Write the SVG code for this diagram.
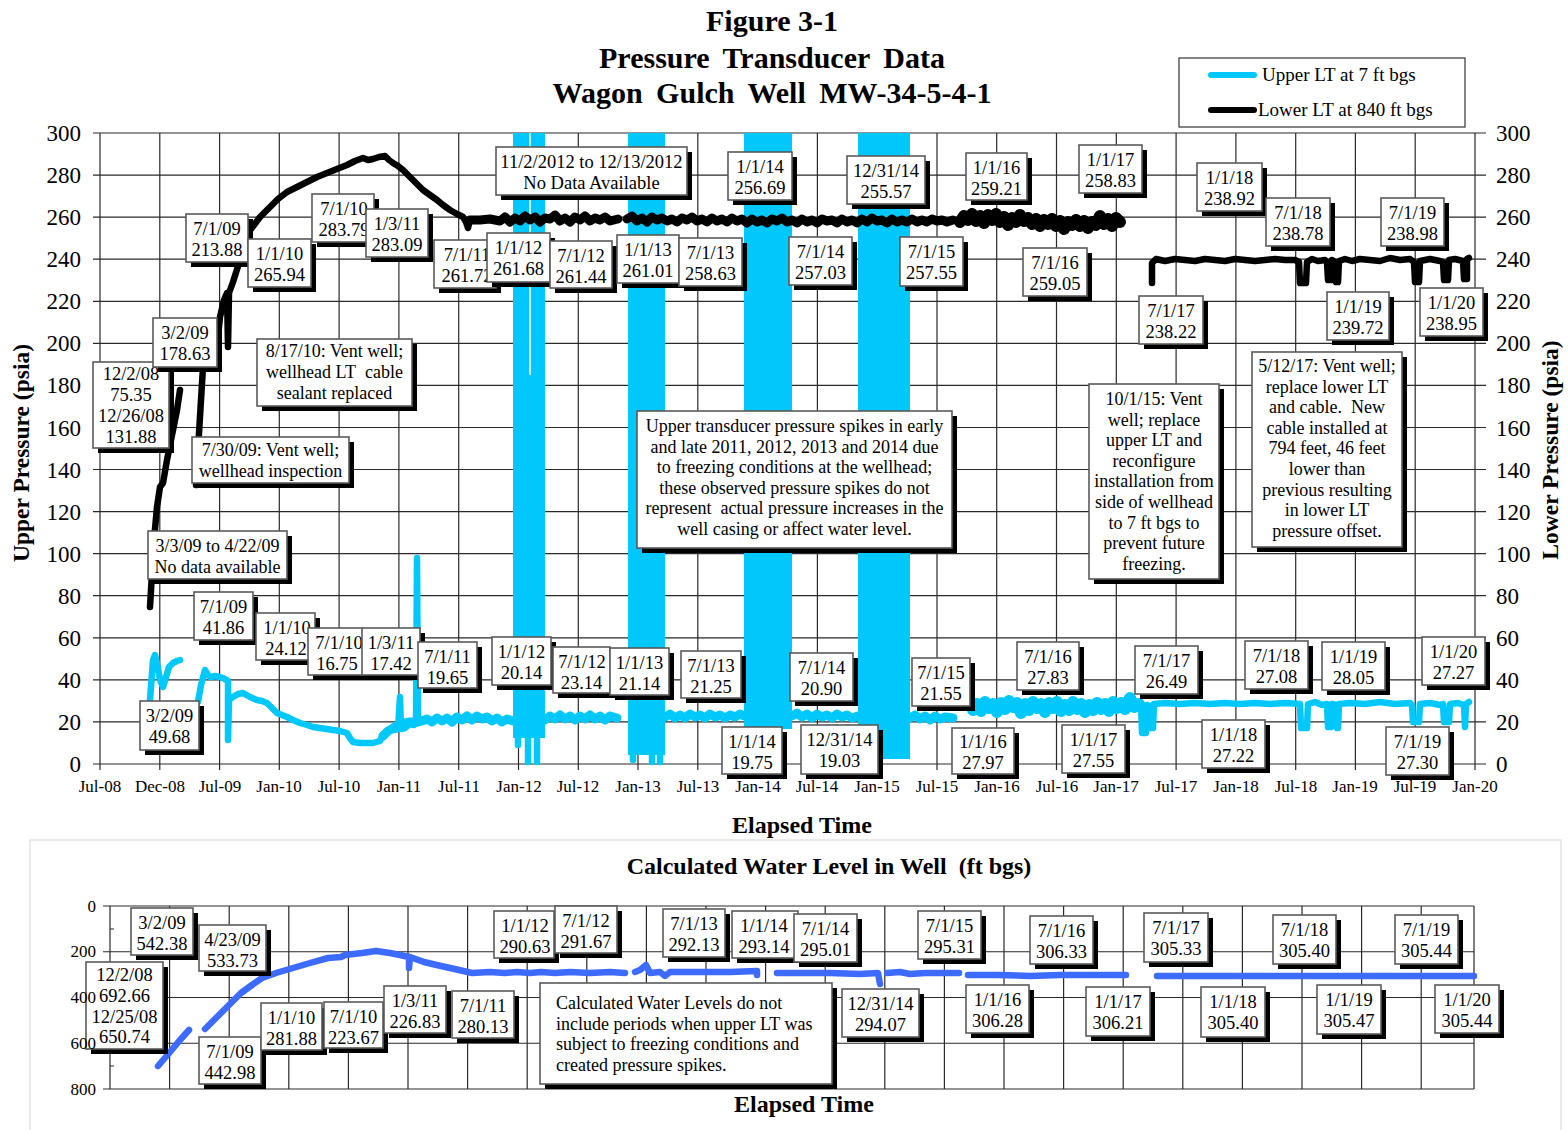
<svg xmlns="http://www.w3.org/2000/svg" width="1568" height="1130" viewBox="0 0 1568 1130">
<style>
text{font-family:"Liberation Serif","Times New Roman",serif;fill:#000}
.ti{font-size:30px;font-weight:bold;text-anchor:middle}
.ax{font-size:23.5px;font-weight:bold;text-anchor:middle}
.ax2{font-size:24px;font-weight:bold;text-anchor:middle}
.yl{font-size:23px;text-anchor:end}
.yr{font-size:23px;text-anchor:start}
.xl{font-size:17px;text-anchor:middle}
.yb{font-size:17px;text-anchor:end}
.l{font-size:18.5px;text-anchor:middle}
.n{font-size:18px;text-anchor:middle}
.nl{font-size:18px;text-anchor:start}
.lg{font-size:19px}
.s{fill:#000}
.b{fill:#fff;stroke:#5a5a5a;stroke-width:1.6}
.grid{fill:none;stroke:#2a2a2a;stroke-width:1.2}
.blk{fill:none;stroke:#000;stroke-width:6.5;stroke-linejoin:round;stroke-linecap:round}
.blk2{fill:none;stroke:#000;stroke-width:9;stroke-linejoin:round;stroke-linecap:round}
.blk3{fill:none;stroke:#000;stroke-width:12;stroke-linejoin:round;stroke-linecap:round}
.cy{fill:none;stroke:#00c8fa;stroke-width:6.5;stroke-linejoin:round;stroke-linecap:round}
.cy2{fill:none;stroke:#00c8fa;stroke-width:9;stroke-linejoin:round;stroke-linecap:round}
.cy3{fill:none;stroke:#00c8fa;stroke-width:12;stroke-linejoin:round;stroke-linecap:round}
.band{fill:#00c8fa}
.bl{fill:none;stroke:#3d6bff;stroke-width:6.5;stroke-linejoin:round;stroke-linecap:round}
</style>

<g id="title">
<text class="ti" x="772" y="31">Figure 3-1</text>
<text class="ti" x="772" y="68" word-spacing="6">Pressure Transducer Data</text>
<text class="ti" x="772" y="103" word-spacing="6">Wagon Gulch Well MW-34-5-4-1</text>
</g>

<g id="legend">
<rect x="1179" y="58" width="286" height="69" fill="#fff" stroke="#333" stroke-width="1.2"/>
<path d="M1211,75 H1254" stroke="#00c8fa" stroke-width="6" stroke-linecap="round"/>
<text class="lg" x="1262" y="81">Upper LT at 7 ft bgs</text>
<path d="M1211,110 H1254" stroke="#000" stroke-width="6" stroke-linecap="round"/>
<text class="lg" x="1258" y="116">Lower LT at 840 ft bgs</text>
</g>

<g id="top-grid">
<path class="grid" d="M93,764H1486M93,721.9H1486M93,679.9H1486M93,637.8H1486M93,595.7H1486M93,553.7H1486M93,511.6H1486M93,469.5H1486M93,427.5H1486M93,385.4H1486M93,343.3H1486M93,301.3H1486M93,259.2H1486M93,217.1H1486M93,175.1H1486M93,133H1486
M100,133V770M159.8,133V770M219.6,133V770M279.3,133V770M339.1,133V770M398.9,133V770M458.7,133V770M518.5,133V770M578.3,133V770M638,133V770M697.8,133V770M757.6,133V770M817.4,133V770M877.2,133V770M937,133V770M996.7,133V770M1056.5,133V770M1116.3,133V770M1176.1,133V770M1235.9,133V770M1295.7,133V770M1355.4,133V770M1415.2,133V770M1475,133V770"/>
</g>

<g id="top-axes">
<text class="yl" x="81" y="772">0</text><text class="yl" x="81" y="730">20</text><text class="yl" x="81" y="688">40</text><text class="yl" x="81" y="646">60</text><text class="yl" x="81" y="604">80</text><text class="yl" x="81" y="562">100</text><text class="yl" x="81" y="520">120</text><text class="yl" x="81" y="478">140</text><text class="yl" x="81" y="436">160</text><text class="yl" x="81" y="393">180</text><text class="yl" x="81" y="351">200</text><text class="yl" x="81" y="309">220</text><text class="yl" x="81" y="267">240</text><text class="yl" x="81" y="225">260</text><text class="yl" x="81" y="183">280</text><text class="yl" x="81" y="141">300</text>
<text class="yr" x="1496" y="772">0</text><text class="yr" x="1496" y="730">20</text><text class="yr" x="1496" y="688">40</text><text class="yr" x="1496" y="646">60</text><text class="yr" x="1496" y="604">80</text><text class="yr" x="1496" y="562">100</text><text class="yr" x="1496" y="520">120</text><text class="yr" x="1496" y="478">140</text><text class="yr" x="1496" y="436">160</text><text class="yr" x="1496" y="393">180</text><text class="yr" x="1496" y="351">200</text><text class="yr" x="1496" y="309">220</text><text class="yr" x="1496" y="267">240</text><text class="yr" x="1496" y="225">260</text><text class="yr" x="1496" y="183">280</text><text class="yr" x="1496" y="141">300</text>
<text class="xl" x="100" y="792">Jul-08</text><text class="xl" x="160" y="792">Dec-08</text><text class="xl" x="220" y="792">Jul-09</text><text class="xl" x="279" y="792">Jan-10</text><text class="xl" x="339" y="792">Jul-10</text><text class="xl" x="399" y="792">Jan-11</text><text class="xl" x="459" y="792">Jul-11</text><text class="xl" x="519" y="792">Jan-12</text><text class="xl" x="578" y="792">Jul-12</text><text class="xl" x="638" y="792">Jan-13</text><text class="xl" x="698" y="792">Jul-13</text><text class="xl" x="758" y="792">Jan-14</text><text class="xl" x="817" y="792">Jul-14</text><text class="xl" x="877" y="792">Jan-15</text><text class="xl" x="937" y="792">Jul-15</text><text class="xl" x="997" y="792">Jan-16</text><text class="xl" x="1057" y="792">Jul-16</text><text class="xl" x="1116" y="792">Jan-17</text><text class="xl" x="1176" y="792">Jul-17</text><text class="xl" x="1236" y="792">Jan-18</text><text class="xl" x="1296" y="792">Jul-18</text><text class="xl" x="1355" y="792">Jan-19</text><text class="xl" x="1415" y="792">Jul-19</text><text class="xl" x="1475" y="792">Jan-20</text>
<text class="ax" transform="translate(29,453) rotate(-90)">Upper Pressure (psia)</text>
<text class="ax" transform="translate(1558,450) rotate(-90)">Lower Pressure (psia)</text>
<text class="ax2" x="802" y="833">Elapsed Time</text>
</g>

<g id="freeze-bands">
<rect class="band" x="513" y="133" width="32" height="605"/>
<path class="cy" d="M528,735V762M537,735V762M518,730V745"/>
<path d="M530,133V375" stroke="#fff" stroke-width="1.5"/>
<rect class="band" x="628" y="133" width="37" height="622"/>
<path class="cy" d="M633,750V760M652,750V762M660,750V762"/>
<rect class="band" x="744" y="133" width="48" height="596"/>
<rect class="band" x="858" y="133" width="52" height="626"/>
<path class="cy" d="M862,755V762M904,720V755"/>
</g>

<g id="series">
<path class="blk" d="M150,607 L152,573 L154,540 L157,507 L160,487 L163,483 L167,460 L170,445 L174,425 L177,410 L180,390"/>
<path class="blk" d="M196,485 L198,450 L201,400 L203,367 L208,355 L213,350 L217,347 L220,317 L224,300 L227,293 L228,347 L229,293 L233,282 L240,260 L248,233 L254,225 L260,217 L265,212 L270,207 L278,199 L287,192 L297,187 L307,182 L317,177 L327,173 L337,169 L347,165 L355,161 L363,158 L368,160 L373,159 L379,157 L385,156 L389,160 L393,163 L398,166 L403,170 L408,175 L413,180 L418,185 L423,190 L430,195 L437,200 L443,205 L450,210 L457,214 L463,217 L466,222 L468,228 L470,220"/>
<path class="blk2" d="M470,220 L480,220 L490,219 L500,221 L505,217 L510,222 L515,218 L520,221 L525,216 L530,220 L535,217 L540,222 L545,218 L550,219 L555,215 L560,221 L565,218 L570,222 L575,217 L580,220 L585,216 L590,221 L595,218 L600,220 L605,217 L610,221 L618,219"/>
<path class="blk2" d="M627,219 L632,216 L637,221 L642,218 L647,222 L652,217 L657,220 L662,218 L667,221 L672,219 L677,222 L682,218 L687,220 L692,217 L697,221 L702,219 L707,222 L712,218 L717,221 L722,219 L727,222 L732,218 L737,221 L742,219 L747,223 L752,219 L757,222 L762,220 L767,223 L772,219 L777,221 L782,218 L787,222 L792,220 L797,223 L802,219 L807,222 L812,220 L817,223 L822,219 L827,221 L832,220 L837,223 L842,219 L847,222 L852,220 L857,223 L862,219 L867,222 L872,218 L877,221 L882,220 L887,223 L892,219 L897,222 L902,220 L907,222 L912,219 L917,222 L922,220 L927,222 L932,219 L937,221 L942,220 L947,222 L953,220"/>
<path class="blk3" d="M960,222 L964,216 L968,220 L972,214 L976,221 L980,216 L984,223 L988,215 L992,220 L996,214 L1000,222 L1004,217 L1008,225 L1012,218 L1016,222 L1020,215 L1024,221 L1028,218 L1032,224 L1036,219 L1040,226 L1044,220 L1048,224 L1052,219 L1056,226 L1060,221 L1064,229 L1068,222 L1072,225 L1076,220 L1080,226 L1084,221 L1088,228 L1092,222 L1096,225 L1100,216 L1104,224 L1108,219 L1112,226 L1116,218 L1120,222"/>
<path class="blk" d="M1152,283 L1152,263 L1156,259 L1165,261 L1175,259 L1185,260 L1195,261 L1205,259 L1215,260 L1225,261 L1235,259 L1245,260 L1255,261 L1265,260 L1275,259 L1285,260 L1295,260 L1299,262 L1300,283 L1306,283 L1307,262 L1312,259 L1318,261 L1325,260 L1327,262 L1328,280 L1331,280 L1332,260 L1335,262 L1336,282 L1338,282 L1339,261 L1345,259 L1352,261 L1360,259 L1370,260 L1380,261 L1390,258 L1400,260 L1410,259 L1414,262 L1415,282 L1419,282 L1420,261 L1430,259 L1440,261 L1443,262 L1444,280 L1448,280 L1449,260 L1455,259 L1463,261 L1464,279 L1467,279 L1467,259 L1469,258"/>

<path class="cy" d="M150,700 L153,660 L155,655 L158,668 L160,680 L163,687 L166,677 L169,667 L173,663 L177,661 L180,660"/>
<path class="cy" d="M198,702 L201,685 L205,670 L208,675 L210,677 L215,676 L220,677 L225,679 L228,681 L228,740 L229,700 L233,697 L238,694 L243,693 L250,697 L257,700 L262,701 L267,703 L272,708 L277,713 L282,715 L287,717 L293,720 L300,723 L307,725 L313,727 L320,728 L327,729 L333,730 L340,731 L347,733 L350,738 L353,742 L360,743 L367,743 L373,743 L380,741 L383,734 L388,731 L393,730 L398,729 L400,697 L401,729 L405,728 L410,724 L414,725 L416,723 L417,558 L418,723"/>
<path class="cy2" d="M383,736 L388,731 L393,728 L400,724 L410,722 L418,722 L422,721 L427,719 L432,722 L437,718 L442,721 L447,718 L452,722 L457,717 L462,720 L467,716 L472,720 L477,716 L482,719 L487,717 L492,721 L497,718 L502,722 L507,719 L513,721"/>
<path class="cy2" d="M545,720 L550,716 L555,719 L560,715 L565,719 L570,716 L575,720 L580,716 L585,719 L590,715 L595,719 L600,716 L605,720 L610,716 L617,718"/>
<path class="cy2" d="M665,717 L670,714 L675,718 L680,715 L685,718 L690,714 L695,717 L700,715 L705,718 L710,714 L715,717 L720,715 L725,718 L730,715 L735,717 L740,714 L744,716"/>
<path class="cy2" d="M792,716 L797,713 L802,717 L807,714 L812,718 L817,714 L822,717 L827,715 L832,718 L837,714 L842,717 L847,715 L852,718 L858,716"/>
<path class="cy2" d="M910,718 L915,715 L920,719 L925,716 L930,720 L935,716 L940,719 L945,717 L953,718"/>
<path class="cy3" d="M973,710 L977,704 L981,711 L985,702 L989,708 L993,704 L997,712 L1001,703 L1005,709 L1009,701 L1013,707 L1017,703 L1021,713 L1025,704 L1029,710 L1033,702 L1037,708 L1041,704 L1045,712 L1049,703 L1053,708 L1057,702 L1061,711 L1065,705 L1069,710 L1073,702 L1077,709 L1081,704 L1085,712 L1089,705 L1093,710 L1097,703 L1101,709 L1105,704 L1109,711 L1113,702 L1117,708 L1121,703 L1125,709 L1130,698 L1134,707 L1139,704"/>
<path class="cy" d="M1141,704 L1142,733 L1146,733 L1147,705 L1150,706 L1151,728 L1153,728 L1154,704 L1165,703 L1180,704 L1195,703 L1210,704 L1225,703 L1240,704 L1255,703 L1270,704 L1285,703 L1300,704 L1301,728 L1307,728 L1308,704 L1315,702 L1322,705 L1327,704 L1328,727 L1331,727 L1332,704 L1336,705 L1337,728 L1338,728 L1339,704 L1350,703 L1365,704 L1380,702 L1395,704 L1410,703 L1412,705 L1413,722 L1419,722 L1420,704 L1430,703 L1440,705 L1443,704 L1444,722 L1449,722 L1450,704 L1458,703 L1464,705 L1465,727 L1466,704 L1469,702"/>
</g>

<g id="top-labels">
<g id="lb-1"><rect class="s" x="98" y="367" width="76" height="86"/><rect class="b" x="93" y="362" width="76" height="86"/><text class="l"><tspan x="131" y="380">12/2/08</tspan><tspan x="131" y="401">75.35</tspan><tspan x="131" y="422">12/26/08</tspan><tspan x="131" y="443">131.88</tspan></text></g>
<g id="lb-2"><rect class="s" x="158" y="323" width="64" height="49"/><rect class="b" x="153" y="318" width="64" height="49"/><text class="l"><tspan x="185" y="339">3/2/09</tspan><tspan x="185" y="360">178.63</tspan></text></g>
<g id="lb-3"><rect class="s" x="191" y="219" width="62" height="48"/><rect class="b" x="186" y="214" width="62" height="48"/><text class="l"><tspan x="217" y="235">7/1/09</tspan><tspan x="217" y="255.5">213.88</tspan></text></g>
<g id="lb-4"><rect class="s" x="253" y="244" width="63" height="48"/><rect class="b" x="248" y="239" width="63" height="48"/><text class="l"><tspan x="279.5" y="260">1/1/10</tspan><tspan x="279.5" y="280.5">265.94</tspan></text></g>
<g id="lb-5"><rect class="s" x="317" y="199" width="62" height="48"/><rect class="b" x="312" y="194" width="62" height="48"/><text class="l"><tspan x="344" y="215">7/1/10</tspan><tspan x="344" y="235.5">283.79</tspan></text></g>
<g id="lb-6"><rect class="s" x="371" y="214" width="62" height="48"/><rect class="b" x="366" y="209" width="62" height="48"/><text class="l"><tspan x="397" y="230">1/3/11</tspan><tspan x="397" y="250.5">283.09</tspan></text></g>
<g id="lb-7"><rect class="s" x="439" y="245" width="62" height="48"/><rect class="b" x="434" y="240" width="62" height="48"/><text class="l"><tspan x="467" y="261">7/1/11</tspan><tspan x="467" y="281.5">261.72</tspan></text></g>
<g id="lb-8"><rect class="s" x="492" y="238" width="63" height="49"/><rect class="b" x="487" y="233" width="63" height="49"/><text class="l"><tspan x="518.5" y="254">1/1/12</tspan><tspan x="518.5" y="274.5">261.68</tspan></text></g>
<g id="lb-9"><rect class="s" x="555" y="246" width="62" height="47"/><rect class="b" x="550" y="241" width="62" height="47"/><text class="l"><tspan x="581" y="262">7/1/12</tspan><tspan x="581" y="282.5">261.44</tspan></text></g>
<g id="lb-10"><rect class="s" x="622" y="240" width="62" height="48"/><rect class="b" x="617" y="235" width="62" height="48"/><text class="l"><tspan x="648" y="256">1/1/13</tspan><tspan x="648" y="276.5">261.01</tspan></text></g>
<g id="lb-11"><rect class="s" x="684" y="243" width="63" height="48"/><rect class="b" x="679" y="238" width="63" height="48"/><text class="l"><tspan x="710.5" y="259">7/1/13</tspan><tspan x="710.5" y="279.5">258.63</tspan></text></g>
<g id="lb-12"><rect class="s" x="794" y="242" width="63" height="48"/><rect class="b" x="789" y="237" width="63" height="48"/><text class="l"><tspan x="820.5" y="258">7/1/14</tspan><tspan x="820.5" y="278.5">257.03</tspan></text></g>
<g id="lb-13"><rect class="s" x="905" y="242" width="63" height="49"/><rect class="b" x="900" y="237" width="63" height="49"/><text class="l"><tspan x="931.5" y="258">7/1/15</tspan><tspan x="931.5" y="278.5">257.55</tspan></text></g>
<g id="lb-14"><rect class="s" x="501" y="152" width="191" height="48"/><rect class="b" x="496" y="147" width="191" height="48"/><text class="l"><tspan x="591.5" y="168">11/2/2012 to 12/13/2012</tspan><tspan x="591.5" y="188.5">No Data Available</tspan></text></g>
<g id="lb-15"><rect class="s" x="733" y="157" width="64" height="48"/><rect class="b" x="728" y="152" width="64" height="48"/><text class="l"><tspan x="760" y="173">1/1/14</tspan><tspan x="760" y="193.5">256.69</tspan></text></g>
<g id="lb-16"><rect class="s" x="852" y="161" width="78" height="48"/><rect class="b" x="847" y="156" width="78" height="48"/><text class="l"><tspan x="886" y="177">12/31/14</tspan><tspan x="886" y="197.5">255.57</tspan></text></g>
<g id="lb-17"><rect class="s" x="971" y="158" width="61" height="47"/><rect class="b" x="966" y="153" width="61" height="47"/><text class="l"><tspan x="996.5" y="174">1/1/16</tspan><tspan x="996.5" y="194.5">259.21</tspan></text></g>
<g id="lb-18"><rect class="s" x="1084" y="150" width="63" height="48"/><rect class="b" x="1079" y="145" width="63" height="48"/><text class="l"><tspan x="1110.5" y="166">1/1/17</tspan><tspan x="1110.5" y="186.5">258.83</tspan></text></g>
<g id="lb-19"><rect class="s" x="1028" y="253" width="64" height="48"/><rect class="b" x="1023" y="248" width="64" height="48"/><text class="l"><tspan x="1055" y="269">7/1/16</tspan><tspan x="1055" y="289.5">259.05</tspan></text></g>
<g id="lb-20"><rect class="s" x="1202" y="168" width="65" height="48"/><rect class="b" x="1197" y="163" width="65" height="48"/><text class="l"><tspan x="1229.5" y="184">1/1/18</tspan><tspan x="1229.5" y="204.5">238.92</tspan></text></g>
<g id="lb-21"><rect class="s" x="1271" y="203" width="64" height="48"/><rect class="b" x="1266" y="198" width="64" height="48"/><text class="l"><tspan x="1298" y="219">7/1/18</tspan><tspan x="1298" y="239.5">238.78</tspan></text></g>
<g id="lb-22"><rect class="s" x="1386" y="203" width="63" height="48"/><rect class="b" x="1381" y="198" width="63" height="48"/><text class="l"><tspan x="1412.5" y="219">7/1/19</tspan><tspan x="1412.5" y="239.5">238.98</tspan></text></g>
<g id="lb-23"><rect class="s" x="1144" y="301" width="64" height="48"/><rect class="b" x="1139" y="296" width="64" height="48"/><text class="l"><tspan x="1171" y="317">7/1/17</tspan><tspan x="1171" y="337.5">238.22</tspan></text></g>
<g id="lb-24"><rect class="s" x="1332" y="297" width="62" height="48"/><rect class="b" x="1327" y="292" width="62" height="48"/><text class="l"><tspan x="1358" y="313">1/1/19</tspan><tspan x="1358" y="333.5">239.72</tspan></text></g>
<g id="lb-25"><rect class="s" x="1425" y="293" width="63" height="48"/><rect class="b" x="1420" y="288" width="63" height="48"/><text class="l"><tspan x="1451.5" y="309">1/1/20</tspan><tspan x="1451.5" y="329.5">238.95</tspan></text></g>
<g id="note-81710"><rect class="s" x="262" y="344" width="155" height="67"/><rect class="b" x="257" y="339" width="155" height="67"/><text class="n"><tspan x="334.5" y="357">8/17/10: Vent well;</tspan><tspan x="334.5" y="378">wellhead LT&#160; cable</tspan><tspan x="334.5" y="399">sealant replaced</tspan></text></g>
<g id="note-73009"><rect class="s" x="197" y="442" width="157" height="46"/><rect class="b" x="192" y="437" width="157" height="46"/><text class="n"><tspan x="270.5" y="456">7/30/09: Vent well;</tspan><tspan x="270.5" y="477">wellhead inspection</tspan></text></g>
<g id="note-nodata09"><rect class="s" x="153" y="536" width="139" height="48"/><rect class="b" x="148" y="531" width="139" height="48"/><text class="n"><tspan x="217.5" y="552">3/3/09 to 4/22/09</tspan><tspan x="217.5" y="572.5">No data available</tspan></text></g>
<g id="note-spikes"><rect class="s" x="642" y="416" width="315" height="137"/><rect class="b" x="637" y="411" width="315" height="137"/><text class="n"><tspan x="794.5" y="432">Upper transducer pressure spikes in early</tspan><tspan x="794.5" y="452.5">and late 2011, 2012, 2013 and 2014 due</tspan><tspan x="794.5" y="473">to freezing conditions at the wellhead;</tspan><tspan x="794.5" y="493.5">these observed pressure spikes do not</tspan><tspan x="794.5" y="514">represent&#160; actual pressure increases in the</tspan><tspan x="794.5" y="534.5">well casing or affect water level.</tspan></text></g>
<g id="note-10115"><rect class="s" x="1094" y="389" width="130" height="195"/><rect class="b" x="1089" y="384" width="130" height="195"/><text class="n"><tspan x="1154" y="405">10/1/15: Vent</tspan><tspan x="1154" y="425.6">well; replace</tspan><tspan x="1154" y="446.2">upper LT and</tspan><tspan x="1154" y="466.8">reconfigure</tspan><tspan x="1154" y="487.4">installation from</tspan><tspan x="1154" y="508">side of wellhead</tspan><tspan x="1154" y="528.6">to 7 ft bgs to</tspan><tspan x="1154" y="549.2">prevent future</tspan><tspan x="1154" y="569.8">freezing.</tspan></text></g>
<g id="note-51217"><rect class="s" x="1257" y="357" width="150" height="195"/><rect class="b" x="1252" y="352" width="150" height="195"/><text class="n"><tspan x="1327" y="372">5/12/17: Vent well;</tspan><tspan x="1327" y="392.6">replace lower LT</tspan><tspan x="1327" y="413.2">and cable.&#160; New</tspan><tspan x="1327" y="433.8">cable installed at</tspan><tspan x="1327" y="454.4">794 feet, 46 feet</tspan><tspan x="1327" y="475">lower than</tspan><tspan x="1327" y="495.6">previous resulting</tspan><tspan x="1327" y="516.2">in lower LT</tspan><tspan x="1327" y="536.8">pressure offset.</tspan></text></g>

<g id="lc-32"><rect class="s" x="199" y="597" width="59" height="48"/><rect class="b" x="194" y="592" width="59" height="48"/><text class="l"><tspan x="223.5" y="613">7/1/09</tspan><tspan x="223.5" y="633.5">41.86</tspan></text></g>
<g id="lc-33"><rect class="s" x="261" y="618" width="59" height="47"/><rect class="b" x="256" y="613" width="59" height="47"/><text class="l"><tspan x="287" y="634">1/1/10</tspan><tspan x="286" y="654.5">24.12</tspan></text></g>
<g id="lc-34"><rect class="s" x="313" y="633" width="55" height="47"/><rect class="b" x="308" y="628" width="55" height="47"/><text class="l"><tspan x="339" y="649">7/1/10</tspan><tspan x="337" y="669.5">16.75</tspan></text></g>
<g id="lc-35"><rect class="s" x="367" y="633" width="58" height="47"/><rect class="b" x="362" y="628" width="58" height="47"/><text class="l"><tspan x="391" y="649">1/3/11</tspan><tspan x="391" y="669.5">17.42</tspan></text></g>
<g id="lc-36"><rect class="s" x="423" y="647" width="59" height="46"/><rect class="b" x="418" y="642" width="59" height="46"/><text class="l"><tspan x="447.5" y="663">7/1/11</tspan><tspan x="447.5" y="683.5">19.65</tspan></text></g>
<g id="lc-37"><rect class="s" x="497" y="642" width="59" height="48"/><rect class="b" x="492" y="637" width="59" height="48"/><text class="l"><tspan x="521.5" y="658">1/1/12</tspan><tspan x="521.5" y="678.5">20.14</tspan></text></g>
<g id="lc-38"><rect class="s" x="558" y="652" width="57" height="46"/><rect class="b" x="553" y="647" width="57" height="46"/><text class="l"><tspan x="582" y="668">7/1/12</tspan><tspan x="581.5" y="688.5">23.14</tspan></text></g>
<g id="lc-39"><rect class="s" x="615" y="653" width="59" height="47"/><rect class="b" x="610" y="648" width="59" height="47"/><text class="l"><tspan x="639.5" y="669">1/1/13</tspan><tspan x="639.5" y="689.5">21.14</tspan></text></g>
<g id="lc-40"><rect class="s" x="686" y="656" width="60" height="47"/><rect class="b" x="681" y="651" width="60" height="47"/><text class="l"><tspan x="711" y="672">7/1/13</tspan><tspan x="711" y="692.5">21.25</tspan></text></g>
<g id="lc-41"><rect class="s" x="795" y="658" width="63" height="48"/><rect class="b" x="790" y="653" width="63" height="48"/><text class="l"><tspan x="821.5" y="674">7/1/14</tspan><tspan x="821.5" y="694.5">20.90</tspan></text></g>
<g id="lc-42"><rect class="s" x="917" y="663" width="58" height="48"/><rect class="b" x="912" y="658" width="58" height="48"/><text class="l"><tspan x="941" y="679">7/1/15</tspan><tspan x="941" y="699.5">21.55</tspan></text></g>
<g id="lc-43"><rect class="s" x="1022" y="647" width="62" height="48"/><rect class="b" x="1017" y="642" width="62" height="48"/><text class="l"><tspan x="1048" y="663">7/1/16</tspan><tspan x="1048" y="683.5">27.83</tspan></text></g>
<g id="lc-44"><rect class="s" x="1140" y="651" width="63" height="48"/><rect class="b" x="1135" y="646" width="63" height="48"/><text class="l"><tspan x="1166.5" y="667">7/1/17</tspan><tspan x="1166.5" y="687.5">26.49</tspan></text></g>
<g id="lc-45"><rect class="s" x="1250" y="646" width="63" height="48"/><rect class="b" x="1245" y="641" width="63" height="48"/><text class="l"><tspan x="1276.5" y="662">7/1/18</tspan><tspan x="1276.5" y="682.5">27.08</tspan></text></g>
<g id="lc-46"><rect class="s" x="1327" y="647" width="63" height="48"/><rect class="b" x="1322" y="642" width="63" height="48"/><text class="l"><tspan x="1353.5" y="663">1/1/19</tspan><tspan x="1353.5" y="683.5">28.05</tspan></text></g>
<g id="lc-47"><rect class="s" x="1427" y="642" width="63" height="48"/><rect class="b" x="1422" y="637" width="63" height="48"/><text class="l"><tspan x="1453.5" y="658">1/1/20</tspan><tspan x="1453.5" y="678.5">27.27</tspan></text></g>
<g id="lc-48"><rect class="s" x="145" y="706" width="59" height="49"/><rect class="b" x="140" y="701" width="59" height="49"/><text class="l"><tspan x="169.5" y="722">3/2/09</tspan><tspan x="169.5" y="743">49.68</tspan></text></g>
<g id="lc-49"><rect class="s" x="727" y="732" width="60" height="47"/><rect class="b" x="722" y="727" width="60" height="47"/><text class="l"><tspan x="752" y="748">1/1/14</tspan><tspan x="752" y="768.5">19.75</tspan></text></g>
<g id="lc-50"><rect class="s" x="806" y="730" width="77" height="49"/><rect class="b" x="801" y="725" width="77" height="49"/><text class="l"><tspan x="839.5" y="746">12/31/14</tspan><tspan x="839.5" y="766.5">19.03</tspan></text></g>
<g id="lc-51"><rect class="s" x="957" y="733" width="62" height="46"/><rect class="b" x="952" y="728" width="62" height="46"/><text class="l"><tspan x="983" y="748">1/1/16</tspan><tspan x="983" y="768.5">27.97</tspan></text></g>
<g id="lc-52"><rect class="s" x="1067" y="730" width="63" height="48"/><rect class="b" x="1062" y="725" width="63" height="48"/><text class="l"><tspan x="1093.5" y="746">1/1/17</tspan><tspan x="1093.5" y="766.5">27.55</tspan></text></g>
<g id="lc-53"><rect class="s" x="1207" y="725" width="63" height="48"/><rect class="b" x="1202" y="720" width="63" height="48"/><text class="l"><tspan x="1233.5" y="741">1/1/18</tspan><tspan x="1233.5" y="761.5">27.22</tspan></text></g>
<g id="lc-54"><rect class="s" x="1391" y="732" width="63" height="48"/><rect class="b" x="1386" y="727" width="63" height="48"/><text class="l"><tspan x="1417.5" y="748">7/1/19</tspan><tspan x="1417.5" y="768.5">27.30</tspan></text></g>
</g>

<g id="wl-chart">
<rect x="30" y="840" width="1531" height="300" fill="#fff" stroke="#dcdcdc" stroke-width="1.2"/>
<text class="ax2" x="829" y="874">Calculated Water Level in Well&#160; (ft bgs)</text>
<path class="grid" d="M103,906H1474M103,951.75H1474M103,997.5H1474M103,1043.25H1474M103,1089H1474
M110,906V1089M169.6,906V1089M229.2,906V1089M288.8,906V1089M348.4,906V1089M408,906V1089M467.6,906V1089M527.2,906V1089M586.8,906V1089M646.4,906V1089M706,906V1089M765.6,906V1089M825.2,906V1089M884.8,906V1089M944.4,906V1089M1004,906V1089M1063.6,906V1089M1123.2,906V1089M1182.8,906V1089M1242.4,906V1089M1302,906V1089M1361.6,906V1089M1421.2,906V1089M1474,906V1089
M110,929h4M110,974.6h4M110,1020.4h4M110,1066h4"/>
<text class="ax2" x="804" y="1112">Elapsed Time</text>
</g>

<g id="wl-series">
<path class="bl" d="M158,1066 L170,1052 L180,1040 L189,1030"/>
<path class="bl" d="M205,1029 L215,1019 L224,1010 L233,1001 L241,993 L252,985 L262,978 L276,973 L293,968 L310,963 L328,958 L341,957 L345,955 L362,953 L376,951 L390,953 L400,955 L409,957 L409,968 L410,957 L424,962 L441,966 L459,970 L472,973 L490,972 L505,973 L517,972 L530,973 L541,972 L555,973 L570,972 L590,973 L610,972 L625,973"/>
<path class="bl" d="M635,972 L640,970 L646,965 L650,973 L660,972 L665,976 L670,972 L700,972 L730,972 L757,971 L757,975"/>
<path class="bl" d="M777,973 L800,973 L830,973 L860,974 L878,973 L880,984"/>
<path class="bl" d="M887,973 L900,972 L910,974 L925,973 L959,973"/>
<path class="bl" d="M968,975 L1000,975 L1030,976 L1060,975 L1090,975 L1126,975"/>
<path class="bl" d="M1157,976 L1474,976"/>
</g>

<g id="wl-labels">
<g id="wb-1"><rect class="s" x="136" y="913" width="62" height="47"/><rect class="b" x="131" y="908" width="62" height="47"/><text class="l"><tspan x="162" y="929">3/2/09</tspan><tspan x="162" y="949.5">542.38</tspan></text></g>
<g id="wb-2"><rect class="s" x="204" y="930" width="67" height="46"/><rect class="b" x="199" y="925" width="67" height="46"/><text class="l"><tspan x="232.5" y="946">4/23/09</tspan><tspan x="232.5" y="966.5">533.73</tspan></text></g>
<g id="wb-3"><rect class="s" x="91" y="967" width="77" height="87"/><rect class="b" x="86" y="962" width="77" height="87"/><text class="l"><tspan x="124.5" y="981">12/2/08</tspan><tspan x="124.5" y="1002">692.66</tspan><tspan x="124.5" y="1023">12/25/08</tspan><tspan x="124.5" y="1043">650.74</tspan></text></g>
<g id="wb-4"><rect class="s" x="204" y="1042" width="62" height="47"/><rect class="b" x="199" y="1037" width="62" height="47"/><text class="l"><tspan x="230" y="1058">7/1/09</tspan><tspan x="230" y="1078.5">442.98</tspan></text></g>
<g id="wb-5"><rect class="s" x="266" y="1008" width="61" height="47"/><rect class="b" x="261" y="1003" width="61" height="47"/><text class="l"><tspan x="291.5" y="1024">1/1/10</tspan><tspan x="291.5" y="1044.5">281.88</tspan></text></g>
<g id="wb-6"><rect class="s" x="329" y="1007" width="59" height="46"/><rect class="b" x="324" y="1002" width="59" height="46"/><text class="l"><tspan x="353.5" y="1023">7/1/10</tspan><tspan x="353.5" y="1043.5">223.67</tspan></text></g>
<g id="wb-7"><rect class="s" x="389" y="991" width="62" height="47"/><rect class="b" x="384" y="986" width="62" height="47"/><text class="l"><tspan x="415" y="1007">1/3/11</tspan><tspan x="415" y="1027.5">226.83</tspan></text></g>
<g id="wb-8"><rect class="s" x="457" y="996" width="62" height="47"/><rect class="b" x="452" y="991" width="62" height="47"/><text class="l"><tspan x="483" y="1012">7/1/11</tspan><tspan x="483" y="1032.5">280.13</tspan></text></g>
<g id="wb-9"><rect class="s" x="499" y="916" width="60" height="47"/><rect class="b" x="494" y="911" width="60" height="47"/><text class="l"><tspan x="525" y="932">1/1/12</tspan><tspan x="525" y="952.5">290.63</tspan></text></g>
<g id="wb-10"><rect class="s" x="560" y="911" width="62" height="47"/><rect class="b" x="555" y="906" width="62" height="47"/><text class="l"><tspan x="586" y="927">7/1/12</tspan><tspan x="586" y="947.5">291.67</tspan></text></g>
<g id="wb-11"><rect class="s" x="668" y="914" width="62" height="48"/><rect class="b" x="663" y="909" width="62" height="48"/><text class="l"><tspan x="694" y="930">7/1/13</tspan><tspan x="694" y="950.5">292.13</tspan></text></g>
<g id="wb-12"><rect class="s" x="737" y="916" width="66" height="47"/><rect class="b" x="732" y="911" width="66" height="47"/><text class="l"><tspan x="764" y="932">1/1/14</tspan><tspan x="764" y="952.5">293.14</tspan></text></g>
<g id="wb-13"><rect class="s" x="799" y="919" width="63" height="48"/><rect class="b" x="794" y="914" width="63" height="48"/><text class="l"><tspan x="825.5" y="935">7/1/14</tspan><tspan x="825.5" y="955.5">295.01</tspan></text></g>
<g id="wb-14"><rect class="s" x="923" y="916" width="63" height="48"/><rect class="b" x="918" y="911" width="63" height="48"/><text class="l"><tspan x="949.5" y="932">7/1/15</tspan><tspan x="949.5" y="952.5">295.31</tspan></text></g>
<g id="wb-15"><rect class="s" x="1035" y="921" width="63" height="48"/><rect class="b" x="1030" y="916" width="63" height="48"/><text class="l"><tspan x="1061.5" y="937">7/1/16</tspan><tspan x="1061.5" y="957.5">306.33</tspan></text></g>
<g id="wb-16"><rect class="s" x="1149" y="918" width="64" height="49"/><rect class="b" x="1144" y="913" width="64" height="49"/><text class="l"><tspan x="1176" y="934">7/1/17</tspan><tspan x="1176" y="954.5">305.33</tspan></text></g>
<g id="wb-17"><rect class="s" x="1278" y="920" width="63" height="49"/><rect class="b" x="1273" y="915" width="63" height="49"/><text class="l"><tspan x="1304.5" y="936">7/1/18</tspan><tspan x="1304.5" y="956.5">305.40</tspan></text></g>
<g id="wb-18"><rect class="s" x="1400" y="920" width="63" height="49"/><rect class="b" x="1395" y="915" width="63" height="49"/><text class="l"><tspan x="1426.5" y="936">7/1/19</tspan><tspan x="1426.5" y="956.5">305.44</tspan></text></g>
<g id="wb-19"><rect class="s" x="847" y="994" width="77" height="48"/><rect class="b" x="842" y="989" width="77" height="48"/><text class="l"><tspan x="880.5" y="1010">12/31/14</tspan><tspan x="880.5" y="1030.5">294.07</tspan></text></g>
<g id="wb-20"><rect class="s" x="971" y="990" width="63" height="48"/><rect class="b" x="966" y="985" width="63" height="48"/><text class="l"><tspan x="997.5" y="1006">1/1/16</tspan><tspan x="997.5" y="1026.5">306.28</tspan></text></g>
<g id="wb-21"><rect class="s" x="1091" y="992" width="64" height="49"/><rect class="b" x="1086" y="987" width="64" height="49"/><text class="l"><tspan x="1118" y="1008">1/1/17</tspan><tspan x="1118" y="1028.5">306.21</tspan></text></g>
<g id="wb-22"><rect class="s" x="1206" y="992" width="64" height="50"/><rect class="b" x="1201" y="987" width="64" height="50"/><text class="l"><tspan x="1233" y="1008">1/1/18</tspan><tspan x="1233" y="1028.5">305.40</tspan></text></g>
<g id="wb-23"><rect class="s" x="1322" y="990" width="64" height="49"/><rect class="b" x="1317" y="985" width="64" height="49"/><text class="l"><tspan x="1349" y="1006">1/1/19</tspan><tspan x="1349" y="1026.5">305.47</tspan></text></g>
<g id="wb-24"><rect class="s" x="1440" y="990" width="64" height="48"/><rect class="b" x="1435" y="985" width="64" height="48"/><text class="l"><tspan x="1467" y="1006">1/1/20</tspan><tspan x="1467" y="1026.5">305.44</tspan></text></g>
<g id="wb-note"><rect class="s" x="545" y="988" width="292" height="101"/><rect class="b" x="540" y="983" width="292" height="101"/><text class="nl"><tspan x="556" y="1009">Calculated Water Levels do not</tspan><tspan x="556" y="1029.5">include periods when upper LT was</tspan><tspan x="556" y="1050">subject to freezing conditions and</tspan><tspan x="556" y="1070.5">created pressure spikes.</tspan></text></g>
</g>

<g id="wl-axis">
<text class="yb" x="96" y="912">0</text><text class="yb" x="96" y="957">200</text><text class="yb" x="96" y="1003">400</text><text class="yb" x="96" y="1049">600</text><text class="yb" x="96" y="1095">800</text>
</g>
</svg>
